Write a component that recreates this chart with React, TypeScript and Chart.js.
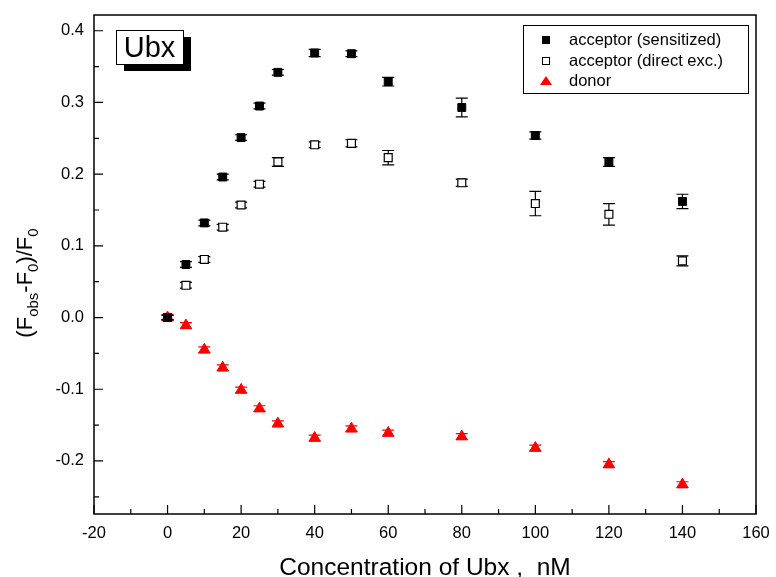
import React, { useEffect, useRef } from "react";
import { Chart, registerables } from "chart.js";

Chart.register(...registerables);

const concentrations = [0, 5, 10, 15, 20, 25, 30, 40, 50, 60, 80, 100, 120, 140];
const sensitized = [0, 0.074, 0.132, 0.196, 0.251, 0.295, 0.342, 0.369, 0.368, 0.329, 0.293, 0.254, 0.217, 0.162];
const sensitizedErr = [0.003, 0.004, 0.004, 0.004, 0.004, 0.004, 0.004, 0.005, 0.004, 0.006, 0.013, 0.005, 0.006, 0.01];
const direct = [0, 0.045, 0.081, 0.126, 0.157, 0.186, 0.217, 0.241, 0.243, 0.223, 0.188, 0.159, 0.144, 0.079];
const directErr = [0.003, 0.004, 0.004, 0.004, 0.004, 0.004, 0.006, 0.004, 0.005, 0.01, 0.005, 0.017, 0.015, 0.007];
const donor = [0, -0.011, -0.045, -0.07, -0.101, -0.127, -0.148, -0.168, -0.155, -0.161, -0.166, -0.182, -0.205, -0.233];
const donorErr = [0.004, 0.004, 0.004, 0.004, 0.004, 0.004, 0.004, 0.004, 0.004, 0.004, 0.004, 0.004, 0.004, 0.004];

const seriesLabels = ["acceptor (sensitized)", "acceptor (direct exc.)", "donor"];
const xTicks = [-20, 0, 20, 40, 60, 80, 100, 120, 140, 160];
const xMinorTicks = [-10, 10, 30, 50, 70, 90, 110, 130, 150];
const yTicks = [-0.2, -0.1, 0, 0.1, 0.2, 0.3, 0.4];
const yMinorTicks = [-0.25, -0.15, -0.05, 0.05, 0.15, 0.25, 0.35];
const xRange = [-20, 160];
const yRange = [-0.274, 0.422];
const xTitle = "Concentration of Ubx ,  nM";
const panelLabel = "Ubx";

const FONT = "'Liberation Sans', Arial, sans-serif";

const errorsByDataset = [sensitizedErr, directErr, donorErr];

const chartPlugin = {
  id: "decor",
  beforeDatasetDraw(chart: any, args: any) {
    const ctx = chart.ctx;
    const i = args.index;
    const ds = chart.data.datasets[i];
    const errs = errorsByDataset[i];
    const xs = chart.scales.x;
    const ys = chart.scales.y;
    ctx.save();
    ctx.strokeStyle = ds.errorColor;
    ctx.lineWidth = 1.2;
    ds.data.forEach((p: any, j: number) => {
      const px = xs.getPixelForValue(p.x);
      const y1 = ys.getPixelForValue(p.y + errs[j]);
      const y2 = ys.getPixelForValue(p.y - errs[j]);
      ctx.beginPath();
      ctx.moveTo(px, y1);
      ctx.lineTo(px, y2);
      ctx.moveTo(px - 6, y1);
      ctx.lineTo(px + 6, y1);
      ctx.moveTo(px - 6, y2);
      ctx.lineTo(px + 6, y2);
      ctx.stroke();
    });
    ctx.restore();
  },
  afterDraw(chart: any) {
    const ctx = chart.ctx;
    const a = chart.chartArea;
    const xs = chart.scales.x;
    const ys = chart.scales.y;
    ctx.save();
    // frame
    ctx.strokeStyle = "#000";
    ctx.lineWidth = 1.5;
    ctx.strokeRect(a.left, a.top, a.right - a.left, a.bottom - a.top);
    // inward ticks
    ctx.lineWidth = 1.2;
    ctx.beginPath();
    xTicks.forEach((v) => {
      const px = xs.getPixelForValue(v);
      ctx.moveTo(px, a.bottom);
      ctx.lineTo(px, a.bottom - 9);
    });
    xMinorTicks.forEach((v) => {
      const px = xs.getPixelForValue(v);
      ctx.moveTo(px, a.bottom);
      ctx.lineTo(px, a.bottom - 5);
    });
    yTicks.forEach((v) => {
      const py = ys.getPixelForValue(v);
      ctx.moveTo(a.left, py);
      ctx.lineTo(a.left + 9, py);
    });
    yMinorTicks.forEach((v) => {
      const py = ys.getPixelForValue(v);
      ctx.moveTo(a.left, py);
      ctx.lineTo(a.left + 5, py);
    });
    ctx.stroke();

    // x title
    ctx.fillStyle = "#000";
    ctx.font = `24.5px ${FONT}`;
    ctx.textAlign = "center";
    ctx.textBaseline = "alphabetic";
    ctx.fillText(xTitle, (a.left + a.right) / 2, 575);

    // y title with subscripts
    const parts: [string, boolean][] = [["(F", false], ["obs", true], ["-F", false], ["0", true], [")/F", false], ["0", true]];
    const mainF = `22px ${FONT}`;
    const subF = `15px ${FONT}`;
    let total = 0;
    parts.forEach(([t, sub]) => {
      ctx.font = sub ? subF : mainF;
      total += ctx.measureText(t).width;
    });
    ctx.translate(32, 283);
    ctx.rotate(-Math.PI / 2);
    ctx.textAlign = "left";
    let cx = -total / 2;
    parts.forEach(([t, sub]) => {
      ctx.font = sub ? subF : mainF;
      ctx.fillText(t, cx, sub ? 6 : 0);
      cx += ctx.measureText(t).width;
    });
    ctx.setTransform(1, 0, 0, 1, 0, 0);

    // panel label box with shadow
    ctx.fillStyle = "#000";
    ctx.fillRect(124, 37, 67, 34);
    ctx.fillStyle = "#fff";
    ctx.fillRect(116, 30, 67, 34);
    ctx.strokeStyle = "#000";
    ctx.lineWidth = 1;
    ctx.strokeRect(116.5, 30.5, 67, 34);
    ctx.fillStyle = "#000";
    ctx.font = `29px ${FONT}`;
    ctx.textAlign = "center";
    ctx.textBaseline = "middle";
    ctx.fillText(panelLabel, 149.5, 48.5);

    // legend
    ctx.fillStyle = "#fff";
    ctx.fillRect(523, 25, 225, 68);
    ctx.strokeStyle = "#000";
    ctx.lineWidth = 1;
    ctx.strokeRect(523.5, 25.5, 225, 68);
    const rows = [40, 61, 81];
    chart.data.datasets.forEach((ds: any, k: number) => {
      const y = rows[k];
      const mx = 546;
      ctx.lineWidth = 1;
      if (ds.pointStyle === "triangle") {
        ctx.fillStyle = ds.pointBackgroundColor;
        ctx.beginPath();
        ctx.moveTo(mx, y - 5);
        ctx.lineTo(mx + 6, y + 4);
        ctx.lineTo(mx - 6, y + 4);
        ctx.closePath();
        ctx.fill();
      } else {
        ctx.fillStyle = ds.pointBackgroundColor;
        ctx.fillRect(mx - 3.5, y - 3.5, 7, 7);
        ctx.strokeStyle = "#000";
        ctx.strokeRect(mx - 3.5, y - 3.5, 7, 7);
      }
      ctx.fillStyle = "#000";
      ctx.font = `16.5px ${FONT}`;
      ctx.textAlign = "left";
      ctx.textBaseline = "middle";
      ctx.fillText(ds.label, 569, y);
    });
    ctx.restore();
  },
};

export default function App() {
  const ref = useRef<HTMLCanvasElement | null>(null);
  useEffect(() => {
    document.body.style.margin = "0";
    const mk = (ys: number[]) => ys.map((y, i) => ({ x: concentrations[i], y }));
    const chart = new Chart(ref.current as HTMLCanvasElement, {
      type: "scatter",
      data: {
        datasets: [
          {
            label: seriesLabels[0],
            data: mk(sensitized),
            pointStyle: "rect",
            pointRadius: 5.6,
            pointBackgroundColor: "#000",
            pointBorderColor: "#000",
            pointBorderWidth: 1,
            errorColor: "#000",
          } as any,
          {
            label: seriesLabels[1],
            data: mk(direct),
            pointStyle: "rect",
            pointRadius: 5.6,
            pointBackgroundColor: "#fff",
            pointBorderColor: "#000",
            pointBorderWidth: 1.2,
            errorColor: "#000",
          } as any,
          {
            label: seriesLabels[2],
            data: mk(donor),
            pointStyle: "triangle",
            pointRadius: 6.5,
            pointBackgroundColor: "#ff0000",
            pointBorderColor: "#ff0000",
            pointBorderWidth: 1,
            errorColor: "#ff0000",
          } as any,
        ],
      },
      options: {
        animation: false,
        responsive: true,
        maintainAspectRatio: false,
        layout: { padding: { left: 0, top: 15, right: 20, bottom: 0 } },
        plugins: { legend: { display: false }, tooltip: { enabled: false } },
        scales: {
          x: {
            type: "linear",
            min: xRange[0],
            max: xRange[1],
            grid: { display: false, drawTicks: false },
            border: { display: false },
            afterBuildTicks: (s: any) => {
              s.ticks = xTicks.map((v) => ({ value: v }));
            },
            afterFit: (s: any) => {
              s.height = 63;
              s.paddingLeft = 0;
              s.paddingRight = 0;
            },
            ticks: {
              padding: 10,
              color: "#000",
              font: { family: FONT, size: 16.5 },
              maxRotation: 0,
              autoSkip: false,
              callback: (v: any) => String(v),
            },
          },
          y: {
            type: "linear",
            min: yRange[0],
            max: yRange[1],
            grid: { display: false, drawTicks: false },
            border: { display: false },
            afterBuildTicks: (s: any) => {
              s.ticks = yTicks.map((v) => ({ value: v }));
            },
            afterFit: (s: any) => {
              s.width = 94;
              s.paddingTop = 0;
              s.paddingBottom = 0;
            },
            ticks: {
              padding: 10,
              color: "#000",
              font: { family: FONT, size: 16.5 },
              autoSkip: false,
              callback: (v: any) => Number(v).toFixed(1),
            },
          },
        },
      },
      plugins: [chartPlugin],
    });
    return () => chart.destroy();
  }, []);
  return (
    <div style={{ width: 776, height: 577, position: "relative" }}>
      <canvas ref={ref} />
    </div>
  );
}
